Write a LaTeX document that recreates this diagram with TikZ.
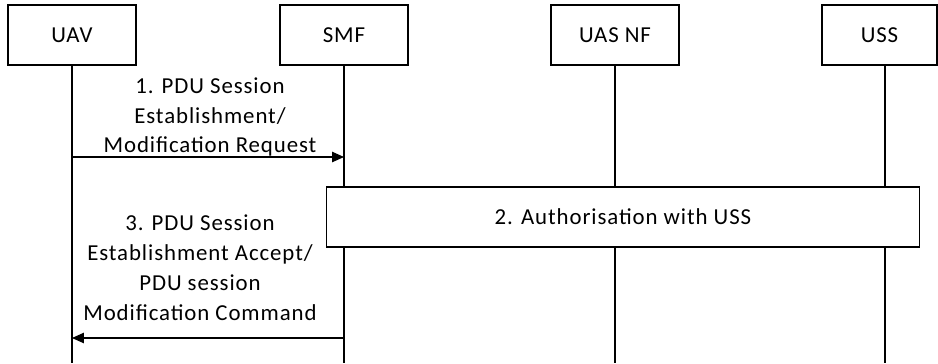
\documentclass[tikz,border=0pt]{standalone}
\usepackage{fontspec}
\setmainfont{Carlito}[LetterSpace=4]
\usetikzlibrary{arrows.meta}
\begin{document}
\begin{tikzpicture}[x=0.02cm,y=-0.02cm,line width=0.6pt,
    entity/.style={draw,minimum width=2.56cm,minimum height=1.2cm,inner sep=0pt,font=\fontsize{13}{17}\selectfont},
    msg/.style={-{Triangle[length=0.24cm,width=0.21cm]}},
    msglabel/.style={align=center,inner sep=0pt,font=\fontsize{13}{17}\selectfont}]
            \useasboundingbox (0,0) rectangle (938,363);

            \node[entity] (uav) at (72,35) {UAV};
            \node[entity] (smf) at (344,35) {SMF};
            \node[entity] (uasnf) at (615,35) {UAS NF};
            \node[entity,minimum width=2.3cm] (uss) at (879.5,35) {USS};
            \coordinate (ussfoot) at (885,65);

            % lifelines
            \draw (uav.south) -- (72,363);
            \draw (smf.south) -- (344,363);
            \draw (uasnf.south) -- (615,363);
            \draw (ussfoot) -- (885,363);

            % 1
            \coordinate (uav1) at (72,157);
            \coordinate (smf1) at (344,157);
            \draw[msg] (uav1) -- (smf1);
            \node[msglabel] (req) at (210,117) {1. PDU Session\\Establishment/\\Modification Request};

            % 2
            \node[draw,fill=white,minimum width=11.88cm,minimum height=1.2cm,font=\fontsize{13}{17}\selectfont] (auth) at (623,217) {2. Authorisation with USS};

            % 3
            \coordinate (smf3) at (344,338);
            \coordinate (uav3) at (72,338);
            \draw[msg] (smf3) -- (uav3);
            \node[msglabel] (acc) at (200,268) {3. PDU Session\\Establishment Accept/\\PDU session\\Modification Command};
        \end{tikzpicture}
\end{document}
